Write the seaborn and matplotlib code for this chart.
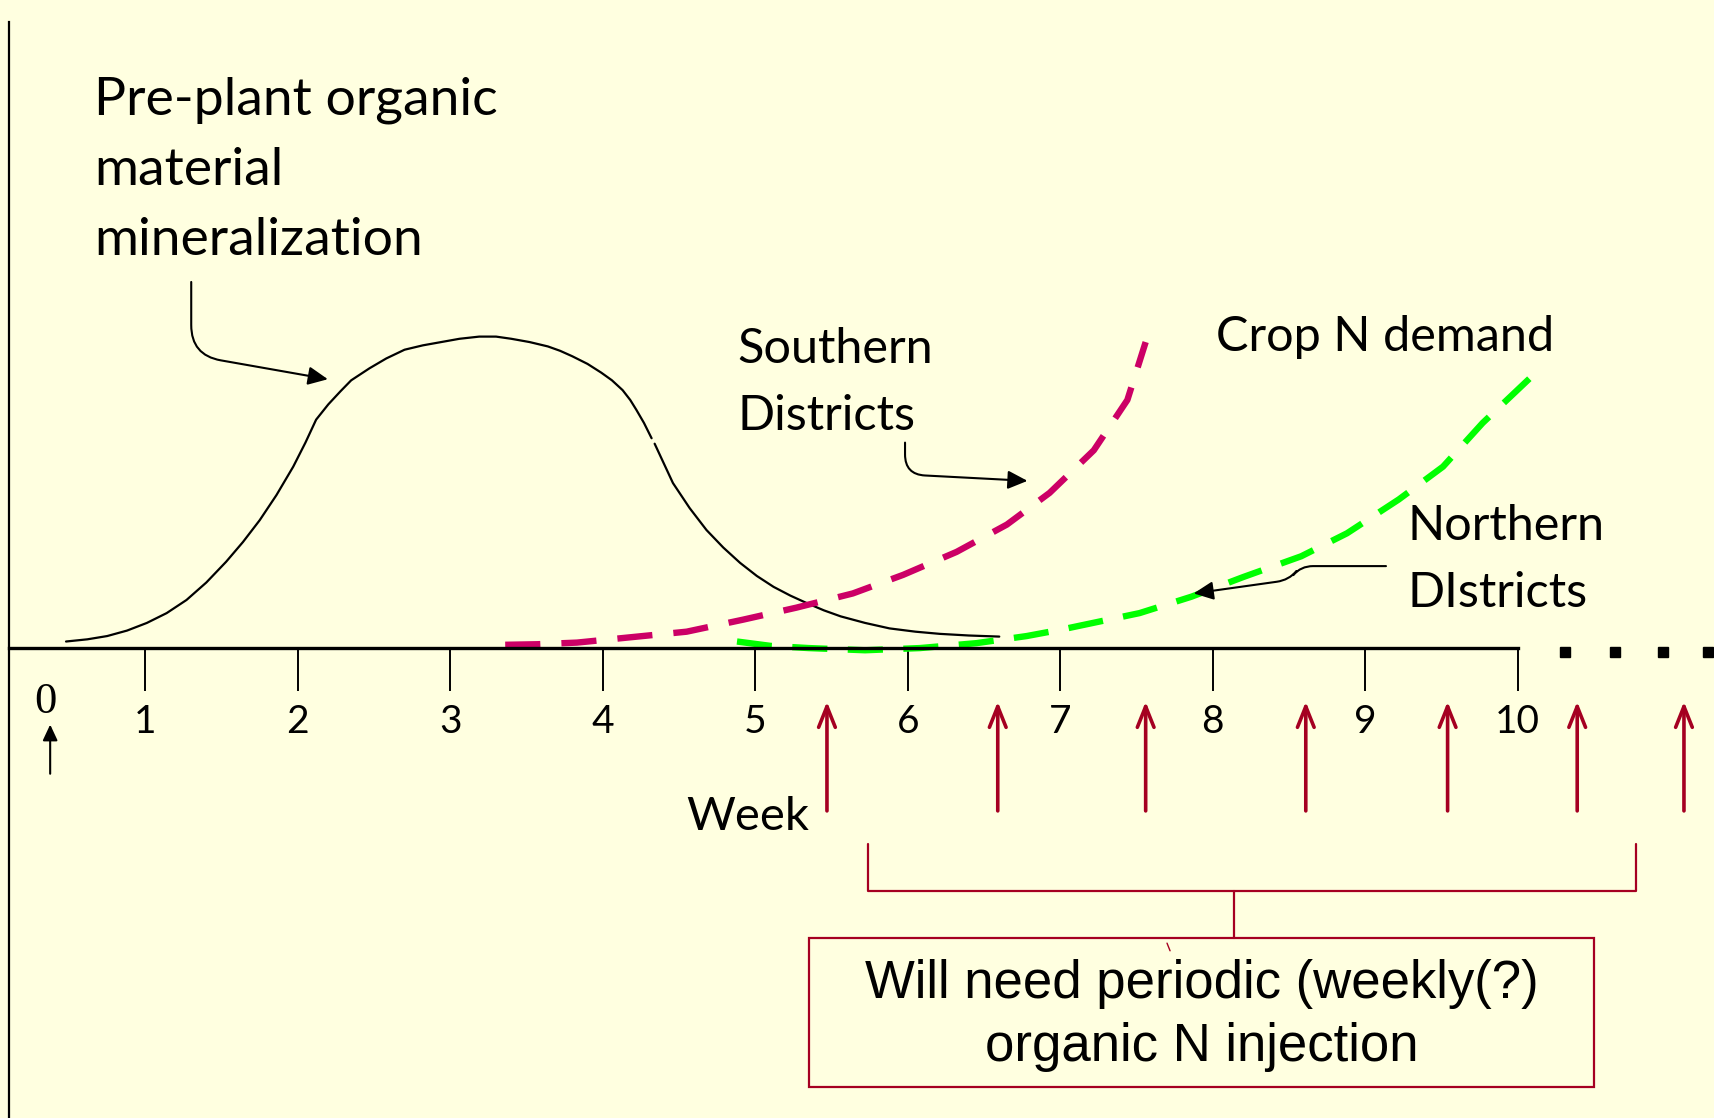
import numpy as np
import pandas as pd
import seaborn as sns
import matplotlib.pyplot as plt
from matplotlib.patches import Rectangle

sns.set_theme(style="white")
plt.rcParams['font.family'] = ['Lato', 'DejaVu Sans']
plt.rcParams['text.color'] = 'black'

# week axis
weeks = [1, 2, 3, 4, 5, 6, 7, 8, 9, 10]
week_labels = ['1', '2', '3', '4', '5', '6', '7', '8', '9', '10']

# pre-plant organic material mineralization (two pieces, small break near week 4.3)
mineral_x1 = [0.48, 0.62, 0.75, 0.88, 1.01, 1.14, 1.27, 1.40, 1.53, 1.64, 1.75, 1.86, 1.97, 2.05,
              2.12, 2.20, 2.28, 2.35, 2.47, 2.58, 2.70, 2.82, 2.94, 3.06, 3.19, 3.30, 3.40, 3.52,
              3.64, 3.72, 3.80, 3.90, 3.99, 4.06, 4.13, 4.18, 4.22, 4.27, 4.32]
mineral_y1 = [0.06, 0.08, 0.11, 0.16, 0.23, 0.32, 0.44, 0.60, 0.79, 0.97, 1.17, 1.40, 1.66, 1.88,
              2.09, 2.23, 2.35, 2.45, 2.56, 2.65, 2.73, 2.77, 2.80, 2.83, 2.85, 2.85, 2.83, 2.80,
              2.76, 2.72, 2.67, 2.60, 2.52, 2.45, 2.36, 2.27, 2.18, 2.06, 1.92]
mineral_x2 = [4.34, 4.40, 4.46, 4.57, 4.68, 4.79, 4.90, 5.01, 5.12, 5.23, 5.34, 5.45, 5.56, 5.72,
              5.88, 6.05, 6.21, 6.40, 6.60]
mineral_y2 = [1.87, 1.69, 1.51, 1.28, 1.08, 0.92, 0.78, 0.66, 0.56, 0.48, 0.41, 0.345, 0.29, 0.23,
              0.18, 0.15, 0.13, 0.115, 0.105]

# crop N demand, southern districts
south_x = [3.36, 3.57, 3.83, 4.19, 4.55, 4.92, 5.27, 5.64, 5.97, 6.32, 6.65, 6.93, 7.22, 7.44, 7.56]
south_y = [0.03, 0.035, 0.05, 0.10, 0.15, 0.26, 0.37, 0.50, 0.67, 0.88, 1.13, 1.42, 1.81, 2.27, 2.80]

# crop N demand, northern districts
north_x = [4.88, 5.10, 5.35, 5.72, 6.08, 6.45, 6.78, 7.01, 7.52, 7.86, 8.20, 8.58, 8.88, 9.22,
           9.51, 9.77, 10.08]
north_y = [0.06, 0.02, 0.00, -0.02, 0.00, 0.045, 0.11, 0.17, 0.32, 0.47, 0.65, 0.84, 1.05, 1.36,
           1.66, 2.06, 2.47]

# weekly organic N injections
inject_x = [5.47, 6.59, 7.56, 8.61, 9.54, 10.39, 11.09]
dots_x = [10.31, 10.64, 10.95, 11.25]

bg = '#FFFFE0'
magenta = '#CC0066'
green = '#00FF00'
darkred = '#A50021'

fig = plt.figure(figsize=(17.14, 11.18), dpi=100, facecolor=bg)
ax = fig.add_axes([0, 0, 1, 1])
ax.set_facecolor(bg)
ax.set_xlim(0.047, 11.287)
ax.set_ylim(-4.30, 5.93)

# axes lines
for s in ['top', 'right']:
    ax.spines[s].set_visible(False)
ax.spines['bottom'].set_position(('data', 0))
ax.spines['bottom'].set_bounds(0.104, 10)
ax.spines['bottom'].set_linewidth(2.4)
ax.spines['bottom'].set_color('black')
ax.spines['left'].set_position(('data', 0.104))
ax.spines['left'].set_bounds(-4.30, 5.73)
ax.spines['left'].set_linewidth(1.6)
ax.spines['left'].set_color('black')
ax.set_yticks([])
ax.set_xticks(weeks, labels=week_labels)
ax.tick_params(axis='x', direction='out', length=31, width=1.4, pad=9,
               labelsize=28, colors='black', bottom=True)
ax.set_xlabel('')
ax.set_ylabel('')

# curves
sns.lineplot(x=mineral_x1, y=mineral_y1, sort=False, estimator=None, color='black', lw=1.6, ax=ax)
sns.lineplot(x=mineral_x2, y=mineral_y2, sort=False, estimator=None, color='black', lw=1.6, ax=ax)
sns.lineplot(x=south_x, y=south_y, sort=False, estimator=None, color=magenta, lw=4.6,
             linestyle=(0, (5.5, 3.3)), ax=ax)
sns.lineplot(x=north_x, y=north_y, sort=False, estimator=None, color=green, lw=4.6,
             linestyle=(0, (5.5, 3.2)), ax=ax)

# axis continuation dots
ax.plot(dots_x, [-0.04] * len(dots_x), ls='none', marker='s', ms=7.5, color='black')

# labels
ax.text(0.663, 4.37, 'Pre-plant organic\nmaterial\nmineralization', ha='left', va='center',
        fontsize=38.5, linespacing=1.6)
ax.text(4.885, 2.43, 'Southern\nDistricts', ha='left', va='center', fontsize=35, linespacing=1.62)
ax.text(8.018, 2.85, 'Crop N demand', ha='left', va='center', fontsize=35)
ax.text(9.28, 0.81, 'Northern\nDIstricts', ha='left', va='center', fontsize=35, linespacing=1.62)
ax.text(4.548, -1.55, 'Week', ha='left', va='center', fontsize=34)
ax.text(0.348, -0.49, '0', ha='center', va='center', fontsize=32, family='Liberation Serif')

# pointer arrows
head = '-|>,head_length=0.6,head_width=0.28'
ax.annotate('', xy=(2.197, 2.46), xytext=(1.301, 3.35),
            arrowprops=dict(arrowstyle=head, color='black', lw=1.5, shrinkA=0, shrinkB=0,
                            mutation_scale=20, connectionstyle='angle,angleA=-90,angleB=170,rad=30'))
ax.annotate('', xy=(6.785, 1.53), xytext=(5.982, 1.88),
            arrowprops=dict(arrowstyle=head, color='black', lw=1.5, shrinkA=0, shrinkB=0,
                            mutation_scale=20, connectionstyle='angle,angleA=-90,angleB=177,rad=20'))
ax.annotate('', xy=(7.875, 0.50), xytext=(9.136, 0.75),
            arrowprops=dict(arrowstyle=head, color='black', lw=1.5, shrinkA=0, shrinkB=0,
                            mutation_scale=20,
                            connectionstyle='arc,angleA=180,armA=85,angleB=8,armB=96,rad=12'))
ax.annotate('', xy=(0.376, -0.70), xytext=(0.376, -1.15),
            arrowprops=dict(arrowstyle=head, color='black', lw=1.5, shrinkA=0, shrinkB=0,
                            mutation_scale=16))

# injection arrows
for x in inject_x:
    ax.annotate('', xy=(x, -0.49), xytext=(x, -1.49),
                arrowprops=dict(arrowstyle='->,head_length=0.75,head_width=0.3', color=darkred,
                                lw=2.6, shrinkA=0, shrinkB=0, mutation_scale=20))

# bracket and box
ax.plot([5.738, 5.738, 10.778, 10.778], [-1.79, -2.22, -2.22, -1.79], color=darkred, lw=1.6)
ax.plot([8.14, 8.14], [-2.22, -2.65], color=darkred, lw=1.6)
ax.plot([7.70, 7.72], [-2.70, -2.77], color=darkred, lw=1)
ax.add_patch(Rectangle((5.351, -4.02), 5.147, 1.37, fill=False, ec=darkred, lw=1.6))
ax.text(7.925, -3.36, 'Will need periodic (weekly(?)\norganic N injection', ha='center', va='center',
        fontsize=38, family='Liberation Sans', linespacing=1.34, color='black')

fig.savefig('out.png', dpi=100, facecolor=bg)
